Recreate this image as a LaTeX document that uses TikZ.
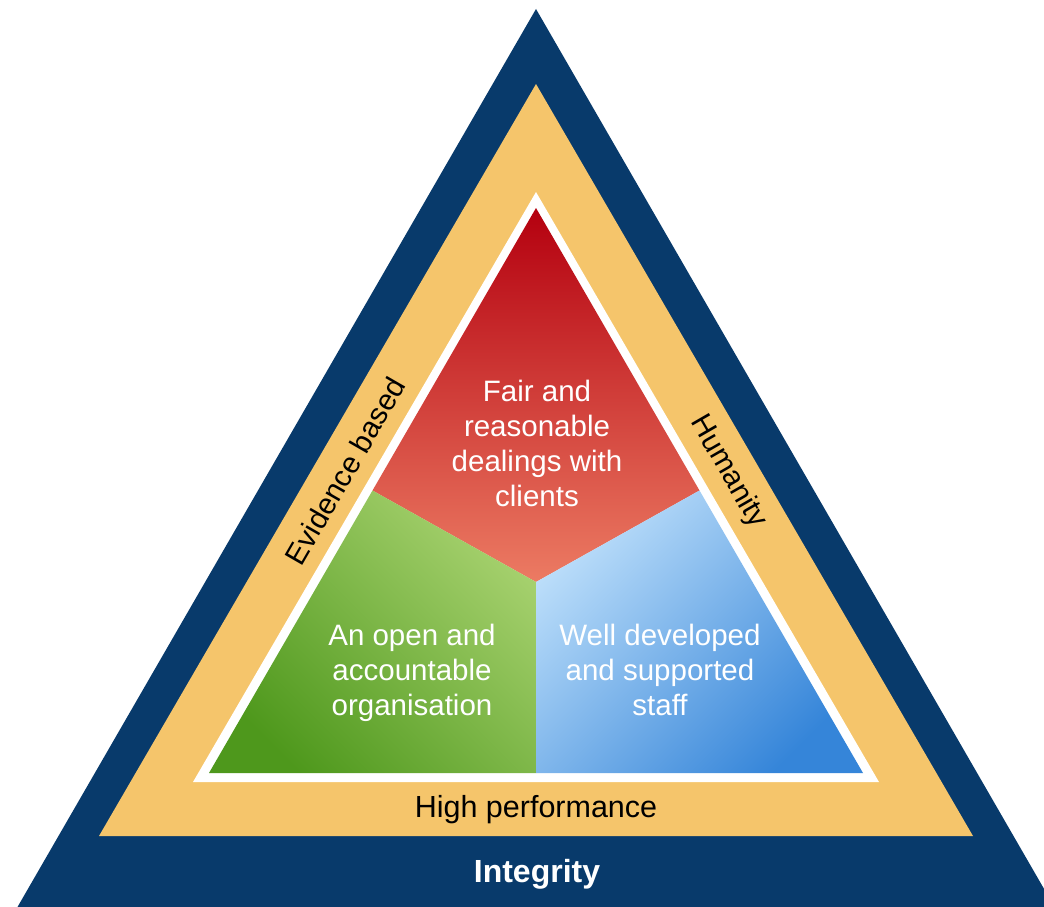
\documentclass[tikz,border=0pt]{standalone}
\usepackage{fontspec}
\setmainfont{Liberation Sans}
\definecolor{navy}{HTML}{083A6B}
\definecolor{sand}{HTML}{F5C56B}
\definecolor{reddark}{HTML}{B4000F}
\definecolor{redlight}{HTML}{EC7B63}
\definecolor{greendark}{HTML}{4E981C}
\definecolor{greenlight}{HTML}{A6D16E}
\definecolor{bluelight}{HTML}{BCDEFA}
\definecolor{bluedark}{HTML}{3585D9}
\tikzset{
  innertext/.style={text=white, align=center, inner sep=0pt,
    font=\fontsize{29.5}{35}\selectfont},
  bandtext/.style={text=black, inner sep=0pt,
    font=\fontsize{29.5}{35}\selectfont},
}
\begin{document}
\begin{tikzpicture}[x=1pt,y=-1pt]
\useasboundingbox (0,0) rectangle (1044,907);
\fill[white] (0,0) rectangle (1044,907);
\clip (0,0) rectangle (1044,907);
% outer navy band
\fill[navy] (536,9) -- (-36.2,1000) -- (1108.2,1000) -- cycle;
% sand band
\fill[sand] (536,84) -- (99,836) -- (973,836) -- cycle;
% white border
\fill[white] (536,192) -- (193,782) -- (879,782) -- cycle;
% inner segments
\coordinate (apex) at (536,208);
\coordinate (lc) at (209,773);
\coordinate (rc) at (863,773);
\coordinate (cen) at (536,582);
\coordinate (ml) at (372.5,490.5);
\coordinate (mr) at (699.5,490.5);
\coordinate (mb) at (536,773);
\shade[top color=reddark, bottom color=redlight]
  (apex) -- (ml) -- (cen) -- (mr) -- cycle;
\shade[top color=greenlight, bottom color=greendark, shading angle=-45]
  (ml) -- (lc) -- (mb) -- (cen) -- cycle;
\shade[top color=bluelight, bottom color=bluedark, shading angle=45]
  (cen) -- (mb) -- (rc) -- (mr) -- cycle;
% texts
\node[innertext] (fair) at (537,443) {Fair and\\reasonable\\dealings with\\clients};
\node[innertext] (open) at (412,673) {An open and\\accountable\\organisation};
\node[innertext] (well) at (660,670) {Well developed\\and supported\\staff};
\node[bandtext, anchor=base, font=\fontsize{30.5}{36}\selectfont] (high) at (536,817) {High performance};
\node[text=white, inner sep=0pt, anchor=base, font=\bfseries\fontsize{32}{38}\selectfont] (integ) at (537,882) {Integrity};
\node[bandtext, rotate=60] (evid) at (345,471) {Evidence based};
\node[bandtext, rotate=-60] (hum) at (728,472) {Humanity};
\end{tikzpicture}
\end{document}
